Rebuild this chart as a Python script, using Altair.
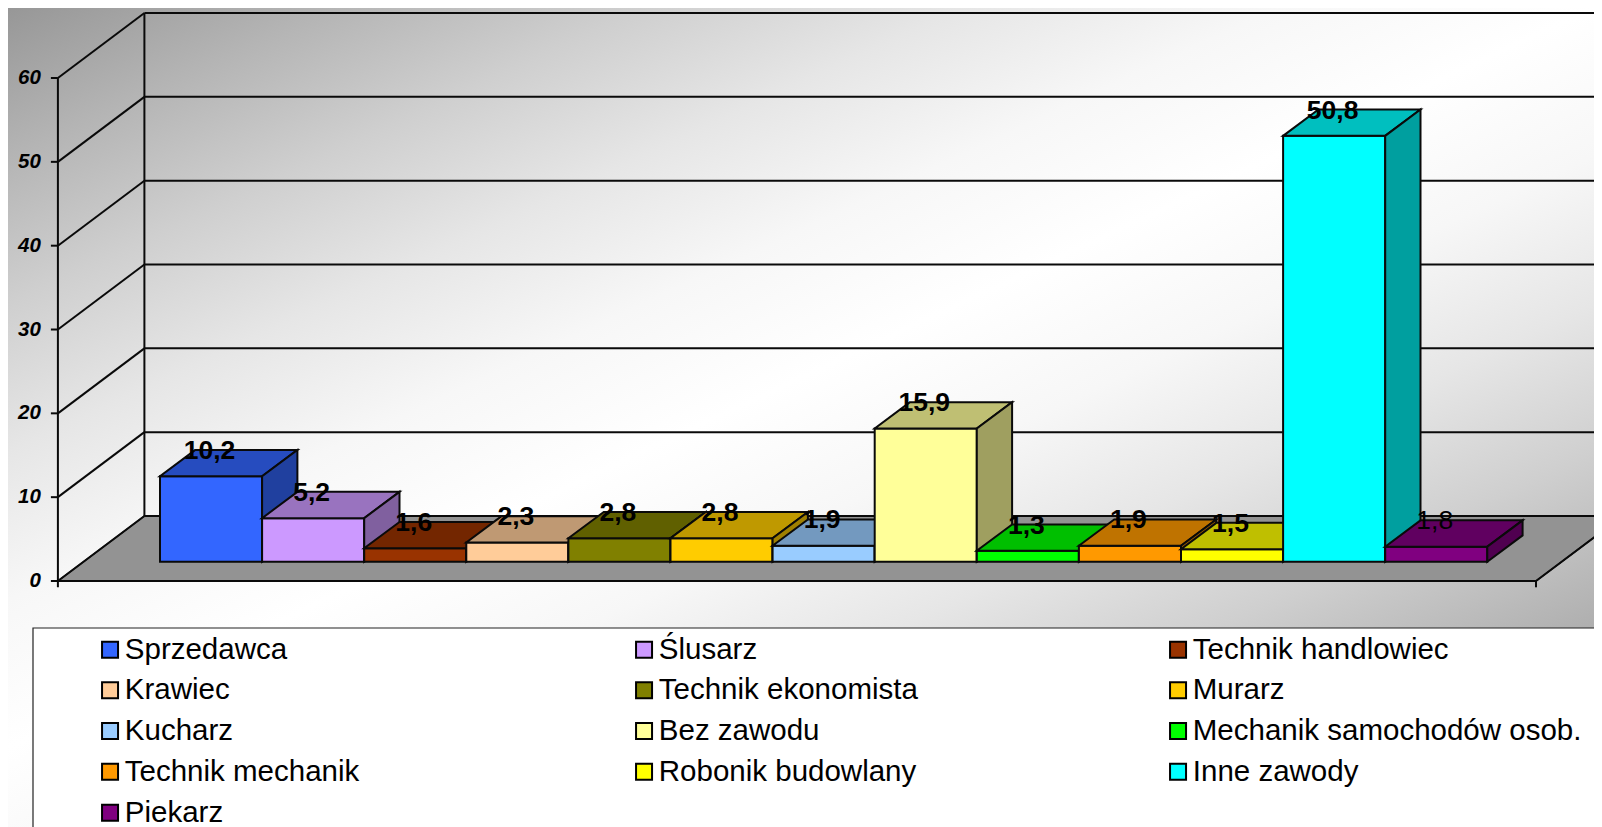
import altair as alt
import pandas as pd

names = ["Sprzedawca", "Ślusarz", "Technik handlowiec", "Krawiec", "Technik ekonomista", "Murarz",
         "Kucharz", "Bez zawodu", "Mechanik samochodów osob.", "Technik mechanik",
         "Robonik budowlany", "Inne zawody", "Piekarz"]
values = [10.2, 5.2, 1.6, 2.3, 2.8, 2.8, 1.9, 15.9, 1.3, 1.9, 1.5, 50.8, 1.8]
colors = ["#3366FF", "#CC99FF", "#993300", "#FFCC99", "#808000", "#FFCC00",
          "#99CCFF", "#FFFF99", "#00FF00", "#FF9900", "#FFFF00", "#00FFFF", "#800080"]
ticks = [0, 10, 20, 30, 40, 50, 60]

W, H = 1586, 819
PX, PY = 102.1, 8.383
x_scale = alt.Scale(domain=[-152 / PX, (W - 152) / PX], nice=False, zero=False)
y_scale = alt.Scale(domain=[(573 - H) / PY, 573 / PY], nice=False, zero=False)

wall_dx, wall_dy = 86.5 / PX, 65 / PY      # depth of the chart box
bar_dx, bar_dy = 35.3 / PX, 26.3 / PY      # depth of a bar
base = 2.30                                # bar floor, seen at the front plane
x_left, x_right = -1.0, 13.477
INK = "#0a0a0a"


def shade(hex_color, k):
    r, g, b = (int(hex_color[i:i + 2], 16) for i in (1, 3, 5))
    return "#%02x%02x%02x" % (round(r * k), round(g * k), round(b * k))


X = lambda f="x": alt.X(f"{f}:Q", scale=x_scale, axis=None, title=None)
Y = lambda f="y": alt.Y(f"{f}:Q", scale=y_scale, axis=None, title=None)

layers = []

# background gradient: grey corner, white diagonal, grey corner
a = 1.107
one = pd.DataFrame({"k": [0]})
ramp = [(0.0, "#979797"), (0.2, "#b4b4b4"), (0.4, "#cfcfcf"), (0.6, "#e6e6e6"), (0.8, "#f7f7f7"), (1.0, "#ffffff")]
unit = 1 / (1 + a * a)
stops = [alt.GradientStop(offset=p * unit, color=c) for p, c in ramp]
stops += [alt.GradientStop(offset=(2 - p) * unit, color=c) for p, c in reversed(ramp[:-1])]
stops.append(alt.GradientStop(offset=1, color="#979797"))
gradient = alt.LinearGradient(gradient="linear", x1=0, y1=0, x2=1, y2=a, stops=stops)
layers.append(alt.Chart(one).mark_rect(fill=gradient).encode(
    x=alt.value(0), x2=alt.value(W), y=alt.value(0), y2=alt.value(H)))

# floor
floor = pd.DataFrame({"y": [0, wall_dy], "x": [x_left, x_left + wall_dx], "x2": [x_right, x_right + wall_dx]})
layers.append(alt.Chart(floor).mark_area(orient="horizontal", fill="#939393", stroke=INK, strokeWidth=1.5, clip=True).encode(
    y=Y(), x=X(), x2="x2:Q"))

# gridlines on the walls
seg = []
for t in ticks:
    seg.append(dict(x=x_left, x2=x_left + wall_dx, y=t, y2=t + wall_dy))
    seg.append(dict(x=x_left + wall_dx, x2=x_right + wall_dx, y=t + wall_dy, y2=t + wall_dy))
    seg.append(dict(x=x_left - 7 / PX, x2=x_left, y=t, y2=t))
seg.append(dict(x=x_left + wall_dx, x2=x_left + wall_dx, y=wall_dy, y2=60 + wall_dy))
seg.append(dict(x=x_left, x2=x_left, y=-0.75, y2=60))
seg.append(dict(x=x_right, x2=x_right, y=0, y2=-0.75))
seg.append(dict(x=x_left, x2=x_right, y=0, y2=0))
seg.append(dict(x=x_right, x2=x_right + wall_dx, y=0, y2=wall_dy))
layers.append(alt.Chart(pd.DataFrame(seg)).mark_rule(color=INK, strokeWidth=2, clip=True).encode(
    x=X(), x2="x2:Q", y=Y(), y2="y2:Q"))

# value axis labels
tick_df = pd.DataFrame({"x": [x_left] * len(ticks), "y": ticks, "t": [str(t) for t in ticks]})
layers.append(alt.Chart(tick_df).mark_text(
    font="Liberation Sans", fontSize=20.5, fontWeight="bold", fontStyle="italic", color="black",
    align="right", baseline="middle", dx=-17).encode(x=X(), y=Y(), text="t:N"))

# bars, painted left to right
legend = alt.Legend(title=None, orient="none", legendX=87.3, legendY=626.7, direction="horizontal", columns=3,
                    gridAlign="all", columnPadding=115, rowPadding=9.8, symbolType="square", symbolSize=256,
                    symbolStrokeColor="black", symbolStrokeWidth=2, labelFont="Liberation Sans", labelFontSize=29.5,
                    labelColor="black", labelLimit=700, labelOffset=0, padding=0, symbolOpacity=1)
for i, (n, v, c) in enumerate(zip(names, values, colors)):
    top = base + v
    front = pd.DataFrame([dict(name=n, x=i, x2=i + 1, y=base, y2=top)])
    roof = pd.DataFrame({"y": [top, top + bar_dy], "x": [i, i + bar_dx], "x2": [i + 1, i + 1 + bar_dx]})
    side = pd.DataFrame({"x": [i + 1, i + 1 + bar_dx], "y": [base, base + bar_dy], "y2": [top, top + bar_dy]})
    layers.append(alt.Chart(front).mark_rect(stroke=INK, strokeWidth=2).encode(
        x=X(), x2="x2:Q", y=Y(), y2="y2:Q",
        color=alt.Color("name:N", scale=alt.Scale(domain=names, range=colors), legend=legend)))
    layers.append(alt.Chart(roof).mark_area(orient="horizontal", fill=shade(c, 0.75), stroke=INK, strokeWidth=2).encode(
        y=Y(), x=X(), x2="x2:Q"))
    layers.append(alt.Chart(side).mark_area(fill=shade(c, 0.625), stroke=INK, strokeWidth=2).encode(
        x=X(), y=Y(), y2="y2:Q"))

# data labels
labels = pd.DataFrame({
    "x": [i + 0.485 for i in range(len(values))],
    "y": [base + v + bar_dy for v in values],
    "t": [str(v).replace(".", ",") for v in values],
    "w": ["normal" if n == "Piekarz" else "bold" for n in names]})
for w in ("bold", "normal"):
    layers.append(alt.Chart(labels[labels.w == w]).mark_text(
        font="Liberation Sans", fontSize=26.5, fontWeight=w, color="black", baseline="middle", dy=1).encode(
        x=X(), y=Y(), text="t:N"))

# legend frame
layers.append(alt.Chart(one).mark_rect(fill="white", stroke="#222222", strokeWidth=1.2).encode(
    x=alt.value(25), x2=alt.value(W + 20), y=alt.value(620), y2=alt.value(H + 20)))

chart = alt.layer(*layers).resolve_scale(color="shared").properties(
    width=W, height=H, padding=0, background="white",
    autosize=alt.AutoSizeParams(type="none")
).configure_view(strokeWidth=0)

chart.save("out.html", embed_options={"renderer": "svg", "actions": False})
